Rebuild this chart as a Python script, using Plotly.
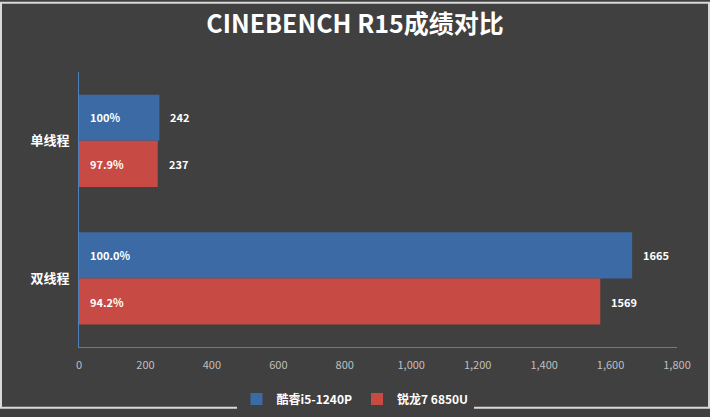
import plotly.graph_objects as go

categories = ['单线程', '双线程']
series_names = ['酷睿i5-1240P', '锐龙7 6850U']
intel_scores = [242, 1665]
amd_scores = [237, 1569]
intel_pct = ['100%', '100.0%']
amd_pct = ['97.9%', '94.2%']
x_ticks = [0, 200, 400, 600, 800, 1000, 1200, 1400, 1600, 1800]

colors = ['#3b6aa5', '#c84a45']
font = 'Noto Sans CJK SC'
W, H = 710, 417
L, R, T, B = 79, 33, 72, 63

fig = go.Figure()
for name, vals, col in zip(series_names, [intel_scores, amd_scores], colors):
    fig.add_trace(go.Bar(y=categories, x=vals, name=name, orientation='h',
                         marker=dict(color=col, line=dict(width=0))))

# labels: percent inside at the bar start, score just past the bar end
for shift, vals, pcts in [(23.5, intel_scores, intel_pct), (-23.5, amd_scores, amd_pct)]:
    for cat, v, p in zip(categories, vals, pcts):
        fig.add_annotation(x=0, y=cat, text=p, showarrow=False, xanchor='left',
                           xshift=9, yshift=shift,
                           font=dict(family=font, size=11, color='white', weight='bold'))
        fig.add_annotation(x=v, y=cat, text=str(v), showarrow=False, xanchor='left',
                           xshift=9, yshift=shift,
                           font=dict(family=font, size=11, color='white', weight='bold'))

# light frame around the whole picture
pw, ph = W - L - R, H - T - B
fig.add_shape(type='rect', xref='paper', yref='paper',
              x0=-(L - 1) / pw, x1=1 + (R - 1) / pw,
              y0=-(B - 1) / ph, y1=1 + (T - 1) / ph,
              line=dict(color='#d9d9d9', width=2), layer='below')

fig.update_layout(
    width=W, height=H,
    paper_bgcolor='#404040', plot_bgcolor='#404040',
    margin=dict(l=L, r=R, t=T, b=B),
    title=dict(text='CINEBENCH R15成绩对比', x=0.5, xref='container', xanchor='center',
               y=1 - 24 / H, yanchor='middle',
               font=dict(family=font, size=25, color='white', weight='bold')),
    barmode='group', bargap=0.33, bargroupgap=0,
    showlegend=True,
    legend=dict(orientation='h', x=0.5, xref='container', xanchor='center',
                y=(H - 399) / H, yref='container', yanchor='middle',
                font=dict(family=font, size=12, color='white', weight='bold'),
                traceorder='normal'),
    font=dict(family=font),
)
fig.update_xaxes(range=[0, 1800], tickvals=x_ticks, tickformat=',', showgrid=False,
                 zeroline=False, showline=True, linecolor='#4f81bd', linewidth=1,
                 ticks='', tickfont=dict(family=font, size=11, color='#bfbfbf'),
                 ticklabelstandoff=8)
fig.update_yaxes(autorange='reversed', showgrid=False, showline=True,
                 linecolor='#4f81bd', linewidth=1, ticks='',
                 tickfont=dict(family=font, size=13, color='white', weight='bold'),
                 ticklabelstandoff=6)

fig.write_html('out.html', config={'displayModeBar': False},
               post_script="document.body.style.margin='0px';")
